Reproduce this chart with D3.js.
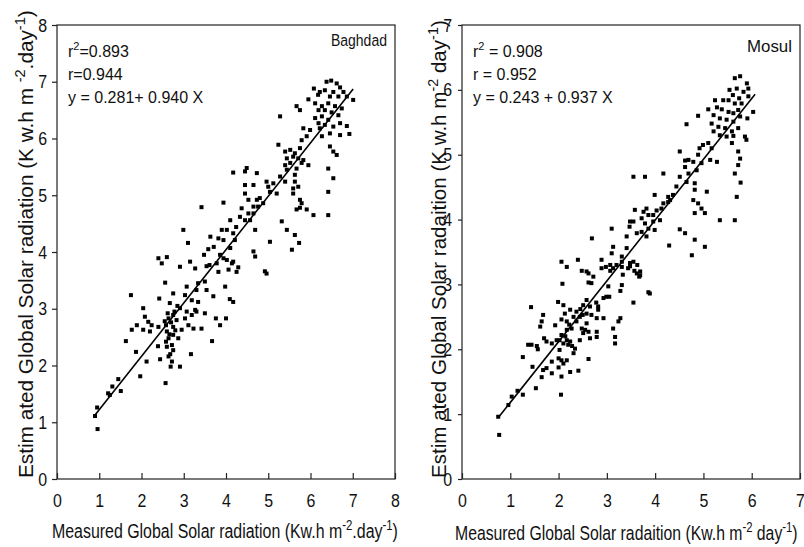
<!DOCTYPE html>
<html>
<head>
<meta charset="utf-8">
<script src="https://cdn.jsdelivr.net/npm/d3@7"></script>
<style>
  body { margin: 0; background: #fff; }
  svg text { font-family: "Liberation Sans", Arial, sans-serif; fill: #111; }
</style>
</head>
<body>
<div id="chart"></div>
<script>
// Baghdad: measured (x) vs estimated (y)
const baghdadX = [6.49,6.38,6.62,6.70,6.08,6.22,6.34,6.54,6.78,7.01,6.18,6.46,6.66,6.86,5.95,6.11,6.27,6.42,6.58,6.74,
  6.19,6.34,6.50,6.66,6.11,6.27,6.42,5.67,5.75,5.28,6.19,6.34,6.54,6.70,6.86,5.83,5.99,6.22,6.46,6.70,
  6.92,6.27,5.91,5.79,6.46,6.54,6.62,5.24,5.40,5.52,5.63,5.75,5.59,5.44,5.71,5.79,5.83,5.95,5.52,5.40,
  5.67,5.63,5.44,5.28,5.40,5.63,5.59,5.71,5.59,5.75,5.79,5.67,5.75,5.91,6.07,6.42,6.42,6.54,6.42,5.20,
  5.04,5.00,5.12,4.96,5.32,5.44,5.63,5.73,5.56,5.04,4.88,4.80,4.73,4.65,4.49,4.45,4.17,4.45,4.53,4.73,
  4.76,4.65,4.65,4.53,4.45,4.37,4.33,4.24,4.17,4.02,4.10,3.94,4.65,4.69,4.57,4.45,4.69,4.21,4.10,3.94,
  3.90,3.82,3.71,3.63,3.58,3.48,3.61,3.78,3.94,4.02,4.14,3.86,4.06,3.42,2.99,3.10,3.15,3.27,2.91,2.60,
  2.40,2.48,4.92,4.96,3.54,3.82,2.56,1.75,2.08,2.04,2.42,2.75,3.07,3.34,3.50,3.30,3.54,3.70,3.03,3.19,
  3.34,2.67,2.91,3.07,3.27,2.75,2.64,2.83,3.03,3.19,3.30,3.50,3.76,4.00,3.86,3.42,3.23,3.11,2.95,2.75,
  2.58,2.40,2.24,2.16,1.89,2.04,1.77,1.63,2.60,2.75,2.64,2.87,2.72,2.60,2.39,2.75,3.67,1.87,2.12,2.44,
  2.64,2.72,2.69,2.91,3.17,1.97,1.45,1.51,1.31,1.21,2.57,0.95,0.90,0.96,3.98,4.09,4.17,4.25,4.29,4.17,
  2.62,2.70,2.66,2.80,2.58,2.68,2.78,2.55,1.25,2.20,2.85];
const baghdadY = [7.02,7.00,6.97,6.90,6.88,6.82,6.85,6.82,6.82,6.68,6.77,6.74,6.74,6.74,6.69,6.62,6.57,6.62,6.57,6.53,
  6.50,6.50,6.46,6.41,6.36,6.39,6.33,6.57,6.50,6.39,6.27,6.24,6.21,6.27,6.22,6.18,6.15,6.18,6.09,6.06,
  6.08,6.04,6.04,5.97,5.86,5.77,5.71,5.89,5.77,5.80,5.74,5.83,5.68,5.65,5.65,5.57,5.62,5.53,5.57,5.53,
  5.47,5.36,5.45,5.33,5.24,5.24,5.12,5.15,5.03,4.92,4.86,4.75,4.78,4.75,4.65,4.65,5.06,5.30,5.47,5.03,
  5.06,5.15,5.21,5.24,4.54,4.39,4.30,4.16,4.04,4.18,4.86,4.95,5.39,5.18,5.48,5.42,5.40,5.03,4.92,4.92,
  4.80,4.80,4.68,4.68,4.56,4.77,4.62,4.44,4.33,4.39,4.56,4.87,4.01,3.92,4.56,5.18,4.39,4.21,4.07,4.21,
  4.39,4.24,4.09,4.27,4.05,3.95,3.77,3.80,3.89,3.86,3.80,3.95,3.69,4.79,4.39,4.16,3.83,3.71,3.74,3.91,
  3.89,3.80,3.66,3.62,3.75,3.65,3.46,3.24,2.86,3.01,3.18,3.27,3.39,3.45,3.48,3.33,3.33,3.22,3.24,3.15,
  3.12,3.10,3.01,2.95,2.98,2.89,2.83,2.80,2.83,2.89,2.95,2.92,2.83,2.83,2.71,2.65,2.65,2.71,2.63,2.68,
  2.71,2.68,2.71,2.77,2.71,2.63,2.63,2.43,2.60,2.54,2.48,2.48,2.36,2.33,2.34,2.27,2.43,2.24,2.07,2.11,
  2.16,2.07,1.98,1.98,2.20,1.81,1.76,1.55,1.63,1.51,1.69,1.26,1.11,0.88,3.39,3.17,3.12,3.65,3.73,3.83,
  2.92,2.76,2.55,2.62,2.42,2.20,2.95,2.78,1.48,2.60,3.05];

// Mosul: measured (x) vs estimated (y)
const mosulX = [5.76,5.65,5.90,5.93,5.54,5.69,5.83,5.93,5.61,5.74,5.24,5.41,5.52,5.65,5.79,6.03,5.10,4.89,4.65,5.28,
  5.38,5.52,5.62,5.72,5.21,5.34,5.48,5.62,5.76,5.91,5.17,5.31,5.45,5.59,5.72,5.21,5.34,5.48,5.62,5.86,
  5.89,5.59,4.99,5.10,5.17,4.92,4.89,4.79,4.96,5.14,5.28,4.62,4.69,4.51,5.72,5.76,5.72,5.65,5.77,5.69,
  5.65,5.34,4.62,4.69,4.65,4.86,4.82,4.82,5.07,4.79,4.89,4.96,5.03,4.82,4.51,4.44,4.37,4.31,4.27,4.17,
  4.13,3.99,4.03,3.96,3.82,3.86,3.76,3.72,3.58,3.55,3.96,3.79,4.10,3.86,3.99,3.72,3.82,3.62,3.48,3.47,
  3.55,3.79,4.17,4.27,4.51,4.62,4.29,4.82,4.76,5.03,3.41,3.10,3.13,3.10,2.69,3.41,3.31,3.20,3.07,3.55,
  3.63,3.57,3.48,3.13,2.89,2.89,2.98,2.40,2.06,2.17,2.48,2.58,2.72,3.69,2.08,2.62,2.62,2.68,3.31,3.33,
  3.07,3.31,3.28,3.03,2.99,3.05,2.93,2.78,2.58,2.51,2.65,2.82,1.99,2.10,1.43,1.68,1.65,1.62,1.93,2.06,
  2.17,2.13,2.24,2.37,2.31,2.44,2.58,2.68,2.82,2.79,2.93,2.17,2.27,2.48,2.51,2.62,2.65,2.79,2.79,3.13,
  3.17,3.17,3.24,3.28,3.55,3.86,3.89,2.44,2.06,2.02,2.10,2.17,2.24,2.34,2.31,2.20,1.96,1.86,1.75,1.70,
  1.55,1.44,1.37,1.26,1.57,2.02,2.00,2.06,2.17,2.10,2.00,1.86,1.86,1.68,1.65,1.75,1.46,2.06,2.24,2.41,
  2.62,1.53,1.15,1.03,1.26,0.96,0.75,0.77,2.05,3.62,3.69,3.67,3.48,3.44,3.31,2.50,2.37,2.58,2.14,2.28,
  2.45,2.22,2.55];
const mosulY = [6.21,6.18,6.10,6.02,6.00,6.02,5.97,5.90,5.92,5.87,5.84,5.84,5.84,5.79,5.79,5.66,5.70,5.60,5.47,5.73,
  5.70,5.66,5.64,5.69,5.61,5.56,5.54,5.51,5.59,5.56,5.48,5.43,5.41,5.36,5.41,5.36,5.30,5.28,5.29,5.28,
  5.23,5.18,5.15,5.18,5.10,5.10,5.00,4.89,4.87,4.92,4.89,4.91,4.92,5.05,5.05,4.94,4.84,4.71,4.57,4.35,
  3.99,3.99,4.81,4.71,4.58,4.76,4.56,4.46,4.43,4.30,4.25,4.17,4.10,4.10,4.66,4.51,4.38,4.30,4.35,4.25,
  4.17,4.38,4.14,4.07,4.17,4.07,4.12,4.02,4.15,3.97,3.97,3.94,3.99,3.86,3.84,3.81,3.74,3.79,3.97,3.89,
  4.66,4.66,4.71,4.27,3.85,3.79,3.60,3.69,3.45,3.58,3.74,3.86,3.58,3.48,3.71,3.56,3.43,3.30,3.30,3.35,
  3.30,3.21,3.28,3.25,3.38,3.25,3.27,3.38,3.35,3.27,3.21,3.20,3.12,3.14,3.01,3.17,3.03,3.02,2.99,3.15,
  3.21,3.27,2.90,2.97,2.81,2.81,2.79,2.72,2.76,2.68,2.66,2.66,2.73,2.68,2.65,2.53,2.43,2.35,2.37,2.46,
  2.43,2.55,2.61,2.58,2.50,2.50,2.55,2.53,2.61,2.48,2.48,2.30,2.32,2.32,2.25,2.27,2.17,2.27,2.19,2.32,
  2.19,2.09,2.43,2.48,2.72,2.88,2.86,2.14,2.22,2.14,2.09,2.14,2.12,2.01,1.94,2.07,2.14,2.09,2.12,2.17,
  2.05,2.07,2.07,1.88,2.00,1.99,1.86,1.83,1.83,1.78,1.72,1.81,1.63,1.68,1.57,1.71,1.73,1.58,1.65,1.67,
  1.85,1.40,1.36,1.27,1.30,1.14,0.96,0.68,1.30,3.17,3.20,3.12,3.33,3.25,3.35,2.53,2.43,2.40,2.20,2.05,
  2.62,2.38,2.30];

const baghdadTicks = [0, 1, 2, 3, 4, 5, 6, 7, 8];
const mosulTicks = [0, 1, 2, 3, 4, 5, 6, 7];

// regression: intercept, slope, x range of the drawn line
const baghdadFit = [0.281, 0.940, 0.90, 7.01];
const mosulFit = [0.243, 0.937, 0.75, 6.07];

const baghdadStats = ["=0.893", "r=0.944", "y = 0.281+ 0.940 X"];
const mosulStats = [" = 0.908", "r = 0.952", "y = 0.243 + 0.937 X"];

const squeeze = 0.84; // the original font is a narrow one

const svg = d3.select("#chart").append("svg")
    .attr("width", 804)
    .attr("height", 547);

// squeeze a text horizontally so it spans `len` px
function fitWidth(sel, len, tx, ty, rot) {
    const w = sel.node().getBBox().width;
    const s = len / w;
    sel.attr("transform", `translate(${tx},${ty})${rot ? " rotate(-90)" : ""} scale(${s},1)`);
}

function titleText(g, parts, size) {
    const t = g.append("text").style("font-size", size + "px");
    t.append("tspan").text(parts[0]);
    t.append("tspan").attr("dy", -8).style("font-size", "14px").text(parts[1]);
    t.append("tspan").attr("dy", 8).text(parts[2]);
    t.append("tspan").attr("dy", -8).style("font-size", "14px").text("-1");
    t.append("tspan").attr("dy", 8).text(")");
    return t;
}

function panel(o) {
    const x = d3.scaleLinear().domain(o.xDomain).range([o.left, o.right]);
    const y = d3.scaleLinear().domain(o.yDomain).range([479, 25]);
    const g = svg.append("g");

    // frame
    g.append("rect")
        .attr("x", o.left).attr("y", 25)
        .attr("width", o.right - o.left).attr("height", 454)
        .attr("fill", "none").attr("stroke", "#222").attr("stroke-width", 1.2);

    // x axis, ticks pointing inward
    const ax = g.append("g")
        .attr("transform", `translate(0,479)`)
        .call(d3.axisBottom(x).tickValues(o.ticks).tickFormat(d3.format("d"))
            .tickSize(-6).tickSizeOuter(0).tickPadding(15));
    ax.select(".domain").remove();
    ax.selectAll("line").attr("stroke", "#222").attr("stroke-width", 1.2);
    ax.selectAll("text").style("font-size", "19px").attr("fill", "#111")
        .attr("transform", `scale(${squeeze},1)`);

    // y axis, ticks pointing outward
    const ay = g.append("g")
        .attr("transform", `translate(${o.left},0)`)
        .call(d3.axisLeft(y).tickValues(o.ticks).tickFormat(d3.format("d"))
            .tickSize(o.yTickSize).tickSizeOuter(0).tickPadding(o.yPad));
    ay.select(".domain").remove();
    ay.selectAll("line").attr("stroke", "#222").attr("stroke-width", 1.2);
    ay.selectAll("text").style("font-size", "19px").attr("fill", "#111")
        .attr("x", -(o.yTickSize + o.yPad) / squeeze)
        .attr("transform", `scale(${squeeze},1)`);

    // points
    g.selectAll(".pt")
        .data(o.xs.map((v, i) => [v, o.ys[i]]))
        .enter().append("rect")
        .attr("class", "pt")
        .attr("x", d => x(d[0]) - 2)
        .attr("y", d => y(d[1]) - 2)
        .attr("width", 4)
        .attr("height", 4)
        .attr("fill", "#000");

    // regression line
    const f = o.fit;
    g.append("line")
        .attr("x1", x(f[2])).attr("y1", y(f[0] + f[1] * f[2]))
        .attr("x2", x(f[3])).attr("y2", y(f[0] + f[1] * f[3]))
        .attr("stroke", "#000").attr("stroke-width", 1.6);

    // stats text
    const t1 = g.append("text").attr("x", o.left + 11).attr("y", 57).style("font-size", "16px");
    t1.append("tspan").text("r");
    t1.append("tspan").attr("dy", -7).style("font-size", "11px").text("2");
    t1.append("tspan").attr("dy", 7).text(o.stats[0]);
    g.append("text").attr("x", o.left + 11).attr("y", 80).style("font-size", "16px").text(o.stats[1]);
    g.append("text").attr("x", o.left + 11).attr("y", 103).style("font-size", "16px").text(o.stats[2]);

    const nm = g.append("text").style("font-size", "17px").text(o.name);
    fitWidth(nm, o.nameLen, o.right - 8 - o.nameLen, o.nameY, false);

    // x title
    const xt = titleText(g, o.xTitle, 19.5);
    fitWidth(xt, o.xtLen, o.xtX, o.xtY, false);

    // y title
    const yt = titleText(g, o.yTitle, 20);
    fitWidth(yt, o.ytLen, o.ytX, o.ytY, true);
}

panel({
    left: 57, right: 395, xDomain: [0, 8], yDomain: [0, 8],
    ticks: baghdadTicks, yTickSize: 5, yPad: 5,
    xs: baghdadX, ys: baghdadY, fit: baghdadFit, stats: baghdadStats,
    name: "Baghdad", nameY: 46, nameLen: 56,
    xTitle: ["Measured Global Solar radiation (Kw.h m", "-2", ".day"],
    xtX: 52, xtY: 538, xtLen: 346,
    yTitle: ["Estim ated Global Solar radiation (K w.h m ", "-2", ".day"],
    ytX: 33, ytY: 478, ytLen: 468
});

panel({
    left: 462, right: 800, xDomain: [0, 7], yDomain: [0, 7],
    ticks: mosulTicks, yTickSize: 4, yPad: 6,
    xs: mosulX, ys: mosulY, fit: mosulFit, stats: mosulStats,
    name: "Mosul", nameY: 52, nameLen: 45,
    xTitle: ["Measured Global Solar radaition (Kw.h m", "-2", " day"],
    xtX: 455, xtY: 540, xtLen: 343,
    yTitle: ["Estim ated Global Solar radaition (K w.h m", "-2", " day"],
    ytX: 446, ytY: 478, ytLen: 458
});
</script>
</body>
</html>
